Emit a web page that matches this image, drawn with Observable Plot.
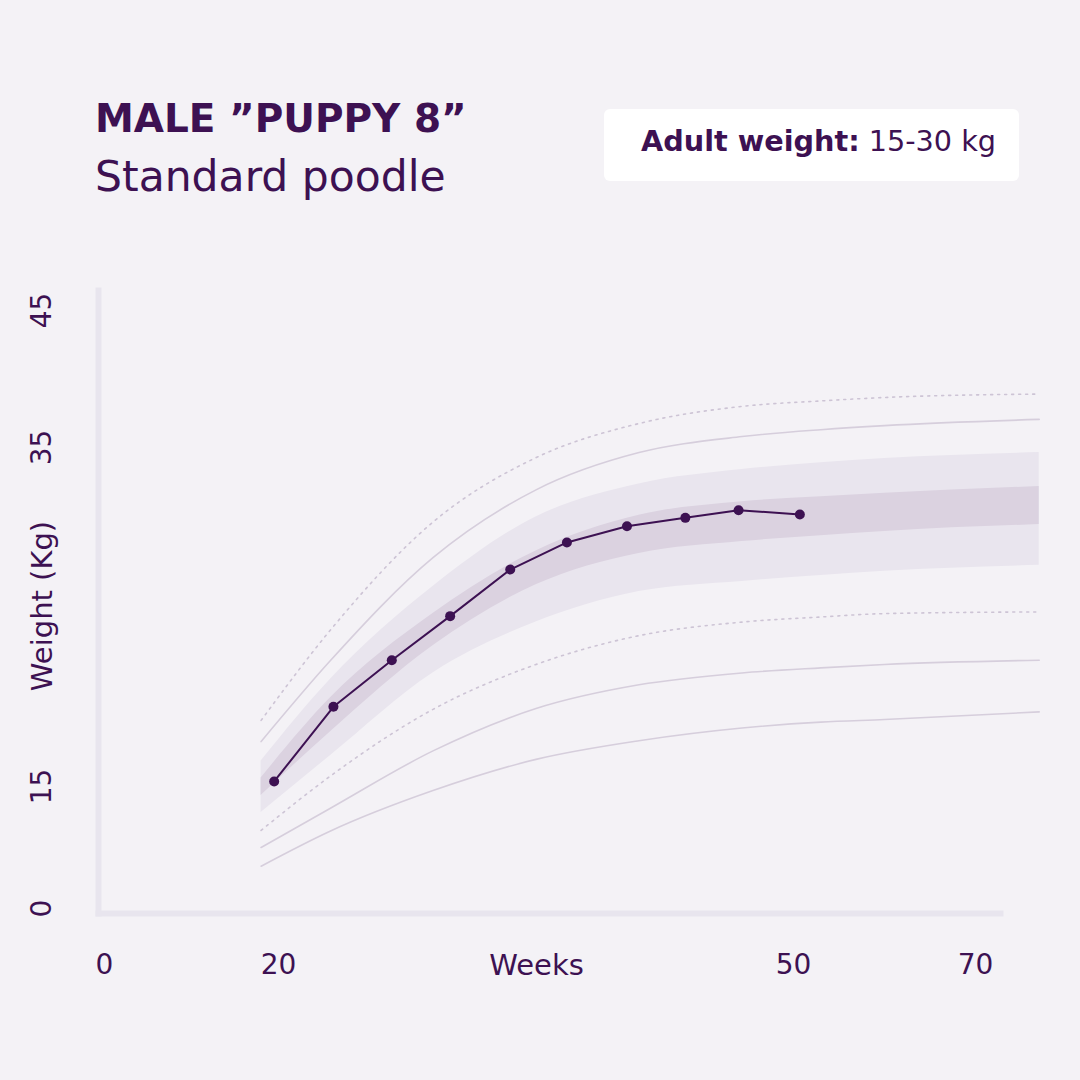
<!DOCTYPE html>
<html>
<head>
<meta charset="utf-8">
<script src="https://cdn.jsdelivr.net/npm/d3@7"></script>
<script src="https://cdn.jsdelivr.net/npm/@observablehq/plot@0.6"></script>
<style>
  html, body { margin: 0; padding: 0; }
  body {
    width: 1080px; height: 1080px; position: relative; overflow: hidden;
    background: #f4f2f6; font-family: "DejaVu Sans", sans-serif; color: #3d1152;
  }
  .title { position: absolute; left: 95px; top: 99px; font-size: 39px; font-weight: bold; line-height: 1; white-space: nowrap; }
  .subtitle { position: absolute; left: 95px; top: 156px; font-size: 42.5px; line-height: 1; white-space: nowrap; }
  .badge {
    position: absolute; left: 604px; top: 109px; width: 415px; height: 72px;
    background: #ffffff; border-radius: 6px;
  }
  .badge span.txt { position: absolute; left: 37px; top: 18px; font-size: 28.7px; line-height: 1; white-space: nowrap; }
  #chart { position: absolute; left: 0; top: 250px; }
</style>
</head>
<body>
<div class="title">MALE ”PUPPY 8”</div>
<div class="subtitle">Standard poodle</div>
<div class="badge"><span class="txt"><b>Adult weight:</b> 15-30 kg</span></div>
<div id="chart"></div>
<script>
// Axis ticks
const xTicks = [0, 20, 50, 70];
const yTicks = [0, 15, 35, 45];

// Reference growth curves (kg), sampled by week
const curveWeeks   = [18, 23, 29, 35, 41, 47, 53, 60, 77];
const upperDotted  = [18.9, 24.2, 30.6, 34.4, 36.75, 38.0, 38.4, 38.65, 38.9];
const upperSolid   = [17.65, 22.4, 28.5, 32.5, 34.7, 35.8, 36.3, 36.6, 37.05];
const outerHigh    = [16.5, 21.3, 26.8, 30.9, 32.85, 33.7, 34.1, 34.35, 34.7];
const innerHigh    = [15.5, 20.2, 25.2, 28.9, 31.0, 31.8, 32.1, 32.3, 32.7];
const innerLow     = [13.9, 18.2, 23.3, 26.9, 28.75, 29.45, 29.8, 30.05, 30.45];
const outerLow     = [11.8, 16.8, 21.7, 24.7, 26.5, 27.1, 27.45, 27.7, 28.05];
const lowerDotted  = [9.6, 15.6, 19.55, 22.2, 23.9, 24.7, 25.0, 25.2, 25.3];
const lowerSolid   = [7.5, 12.3, 17.1, 19.6, 21.0, 21.7, 22.0, 22.2, 22.45];
const lowestSolid  = [5.2, 9.5, 14.5, 16.6, 17.7, 18.45, 18.8, 18.95, 19.4];

// Puppy 8 weigh-ins
const puppyWeeks   = [19.5, 23.2, 26.6, 30.0, 33.5, 36.8, 40.3, 43.7, 46.8, 50.7];
const puppyWeights = [15.3, 19.7, 22.45, 25.05, 27.8, 29.4, 30.35, 30.85, 31.3, 31.05];

const curves = curveWeeks.map((week, i) => ({
  week,
  upperDotted: upperDotted[i], upperSolid: upperSolid[i],
  outerHigh: outerHigh[i], innerHigh: innerHigh[i],
  innerLow: innerLow[i], outerLow: outerLow[i],
  lowerDotted: lowerDotted[i], lowerSolid: lowerSolid[i], lowestSolid: lowestSolid[i]
}));
const puppy = puppyWeeks.map((week, i) => ({week, weight: puppyWeights[i]}));

const ink = "#3d1152";
const guide = "#d6cedc";
const dotted = "#cdc4d5";
const labelSize = 28;

const plot = Plot.plot({
  width: 1080,
  height: 760,
  marginLeft: 98,
  marginRight: 80,
  marginTop: 40,
  marginBottom: 97,
  style: {background: "transparent", fontFamily: "DejaVu Sans, sans-serif", color: ink},
  // piecewise scales: stretched middle sections
  x: {type: "linear", domain: [0, 20, 50, 70], range: [104, 278, 793, 975], axis: null},
  y: {type: "linear", domain: [0, 15, 35, 45], range: [658, 536, 197, 60], axis: null},
  marks: [
    Plot.areaY(curves, {x: "week", y1: "outerLow", y2: "outerHigh", curve: "monotone-x", fill: "#e9e5ee"}),
    Plot.areaY(curves, {x: "week", y1: "innerLow", y2: "innerHigh", curve: "monotone-x", fill: "#dbd2e0"}),
    Plot.line(curves, {x: "week", y: "upperDotted", curve: "monotone-x", stroke: dotted, strokeWidth: 1.6, strokeDasharray: "2,5"}),
    Plot.line(curves, {x: "week", y: "lowerDotted", curve: "monotone-x", stroke: dotted, strokeWidth: 1.6, strokeDasharray: "2,5"}),
    Plot.line(curves, {x: "week", y: "upperSolid", curve: "monotone-x", stroke: guide, strokeWidth: 1.6}),
    Plot.line(curves, {x: "week", y: "lowerSolid", curve: "monotone-x", stroke: guide, strokeWidth: 1.6}),
    Plot.line(curves, {x: "week", y: "lowestSolid", curve: "monotone-x", stroke: guide, strokeWidth: 1.6}),
    Plot.frame({anchor: "left", stroke: "#e8e5ee", strokeWidth: 6, strokeOpacity: 1, strokeLinecap: "square"}),
    Plot.frame({anchor: "bottom", stroke: "#e8e5ee", strokeWidth: 6, strokeOpacity: 1, strokeLinecap: "square"}),
    Plot.line(puppy, {x: "week", y: "weight", stroke: ink, strokeWidth: 2}),
    Plot.dot(puppy, {x: "week", y: "weight", r: 5, fill: ink}),
    // tick labels
    Plot.text(xTicks, {x: d => d, frameAnchor: "bottom", dy: 52, lineAnchor: "middle", textAnchor: "middle",
      text: d => String(d), fontSize: labelSize, fill: ink}),
    Plot.text(yTicks, {y: d => d, frameAnchor: "left", dx: -56, rotate: -90, textAnchor: "middle", lineAnchor: "middle",
      text: d => String(d), fontSize: labelSize, fill: ink}),
    // axis titles
    Plot.text(["Weeks"], {frameAnchor: "bottom", dy: 52, dx: -13, lineAnchor: "middle", textAnchor: "middle",
      fontSize: 29, fill: ink}),
    Plot.text(["Weight (Kg)"], {frameAnchor: "left", dx: -56, dy: 4, rotate: -90, textAnchor: "middle", lineAnchor: "middle",
      fontSize: 29, fill: ink})
  ]
});
document.getElementById("chart").append(plot);
</script>
</body>
</html>
